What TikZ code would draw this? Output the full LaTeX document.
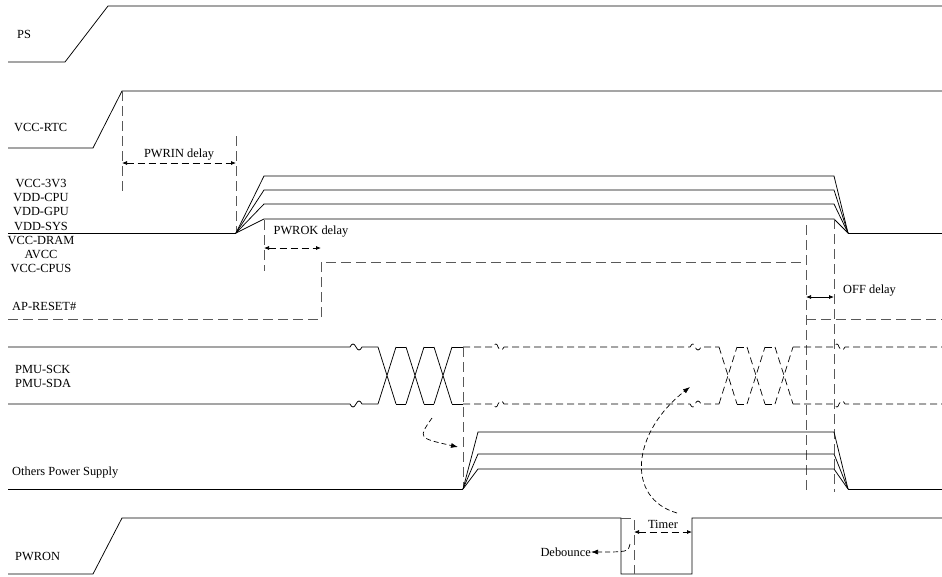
\documentclass[tikz,border=0pt]{standalone}
\usepackage{fontspec}
\setmainfont{Liberation Serif}
\usetikzlibrary{arrows.meta}
\begin{document}
\begin{tikzpicture}[x=1pt,y=-1pt,
  sig/.style={line width=0.75pt,black},
  markline/.style={line width=0.75pt,draw=black!65,dash pattern=on 10pt off 5pt},
  busdash/.style={line width=0.7pt,black,dash pattern=on 7pt off 4pt},
  dimarrow/.style={line width=0.75pt,black,dash pattern=on 7pt off 4pt,{Latex[length=5pt,width=4pt]}-{Latex[length=5pt,width=4pt]}},
  curvearrow/.style={line width=0.7pt,black,dash pattern=on 5pt off 3pt,-{Latex[length=7pt,width=5pt]}},
  lbl/.style={font=\fontsize{12.4}{14.3}\selectfont,inner sep=0pt}]
\useasboundingbox (0,0) rectangle (942,576);

% ---------- PS ----------
\draw[sig] (8,62) -- (65,62) -- (108,6) -- (942,6);
\node[lbl,anchor=west] (lps) at (17,34) {PS};

% ---------- VCC-RTC ----------
\draw[sig] (8,148) -- (93,148) -- (122,91) -- (942,91);
\node[lbl,anchor=west] (lrtc) at (14,127) {VCC-RTC};

% PWRIN delay
\coordinate (pwa) at (122,163);
\coordinate (pwb) at (236,163);
\draw[markline] (122,91) -- (122,191);
\draw[markline] (236,136) -- (236,233);
\draw[dimarrow] (pwa) -- (pwb);
\node[lbl] (lpwrin) at (179,155) {PWRIN delay};

% ---------- VCC-3V3 group ----------
\draw[sig] (8,233) -- (236,233);
\draw[sig] (848,233) -- (942,233);
\foreach \y in {176,190,204,219}
  \draw[sig] (236,233) -- (264,\y) -- (834,\y) -- (848,233);
\node[lbl,align=center] (lgrp) at (41,226) {VCC-3V3\\VDD-CPU\\VDD-GPU\\VDD-SYS\\VCC-DRAM\\AVCC\\VCC-CPUS};

% PWROK delay
\coordinate (pka) at (264,248);
\coordinate (pkb) at (321,248);
\draw[markline] (264,220) -- (264,271);
\draw[dimarrow] (pka) -- (pkb);
\node[lbl] (lpwrok) at (311,232) {PWROK delay};

% ---------- AP-RESET# ----------
\draw[markline] (8,319) -- (321,319) -- (321,262) -- (806,262);
\draw[markline] (806,319) -- (942,319);
\draw[markline] (806,225) -- (806,492);
\draw[markline] (834,219) -- (834,492);
\node[lbl,anchor=west] (lrst) at (12,306) {AP-RESET\#};

% OFF delay
\coordinate (ofa) at (806,297);
\coordinate (ofb) at (834,297);
\draw[sig,{Latex[length=5pt,width=4pt]}-{Latex[length=5pt,width=4pt]}] (ofa) -- (ofb);
\node[lbl,anchor=west] (loff) at (843,291) {OFF delay};

% ---------- PMU bus ----------
\foreach \y/\s in {347/-1,404/1}{
  \draw[sig] (8,\y) -- (350,\y) .. controls (352,\y+4*\s) and (354,\y+4*\s) .. (356,\y)
     .. controls (358,\y-4*\s) and (360,\y-4*\s) .. (362,\y) -- (378,\y);
  \draw[sig] (396,\y) -- (406,\y) (424,\y) -- (434,\y) (452,\y) -- (463,\y);
  \draw[busdash] (463,\y) -- (493,\y) .. controls (495,\y+4*\s) and (497,\y+4*\s) .. (498,\y)
     .. controls (500,\y-4*\s) and (502,\y-4*\s) .. (504,\y) -- (690,\y)
     .. controls (692,\y+4*\s) and (694,\y+4*\s) .. (695,\y)
     .. controls (697,\y-4*\s) and (699,\y-4*\s) .. (701,\y) -- (719,\y);
  \draw[busdash] (737,\y) -- (747,\y) (765,\y) -- (775,\y);
  \draw[busdash] (793,\y) -- (834,\y) .. controls (836,\y+4*\s) and (838,\y+4*\s) .. (839,\y)
     .. controls (841,\y-4*\s) and (843,\y-4*\s) .. (845,\y) -- (942,\y);
}
\foreach \x in {378,406,434}
  \draw[sig] (\x,347) -- (\x+18,404) (\x,404) -- (\x+18,347);
\foreach \x in {719,747,775}
  \draw[busdash] (\x,347) -- (\x+18,404) (\x,404) -- (\x+18,347);
\node[lbl,anchor=west,align=left,font=\fontsize{12.4}{14}\selectfont] (lpmu) at (15,376) {PMU-SCK\\PMU-SDA};

% ---------- Others Power Supply ----------
\draw[markline] (463,347) -- (463,489);
\draw[sig] (8,489) -- (463,489);
\draw[sig] (848,489) -- (942,489);
\foreach \y in {432,454,469}
  \draw[sig] (463,489) -- (478,\y) -- (834,\y) -- (848,489);
\node[lbl,anchor=west] (loth) at (12,473) {Others Power Supply};

% small curved arrow
\coordinate (ca1) at (432,418);
\coordinate (ca2) at (458,447);
\draw[curvearrow] (ca1) .. controls (418,438) .. (ca2);

% ---------- PWRON ----------
\draw[sig] (8,574) -- (93,574) -- (122,518) -- (621,518) -- (621,574) -- (692,574) -- (692,518) -- (942,518);
\draw[markline] (621,518) -- (634,518) -- (634,574);
\node[lbl,anchor=west] (lpwron) at (15,556) {PWRON};

% Timer
\coordinate (tma) at (634,532);
\coordinate (tmb) at (692,532);
\draw[dimarrow] (tma) -- (tmb);
\node[lbl] (ltimer) at (663,524) {Timer};

% Debounce
\node[lbl,anchor=east] (ldeb) at (591,552) {Debounce};
\coordinate (db1) at (630,544);
\draw[curvearrow] (db1) .. controls (628,552) .. (ldeb.east);

% big curved arrow
\coordinate (bc1) at (677,513);
\coordinate (bc2) at (690,387);
\draw[curvearrow] (bc1) .. controls (625,498) and (632,432) .. (bc2);
\end{tikzpicture}
\end{document}
